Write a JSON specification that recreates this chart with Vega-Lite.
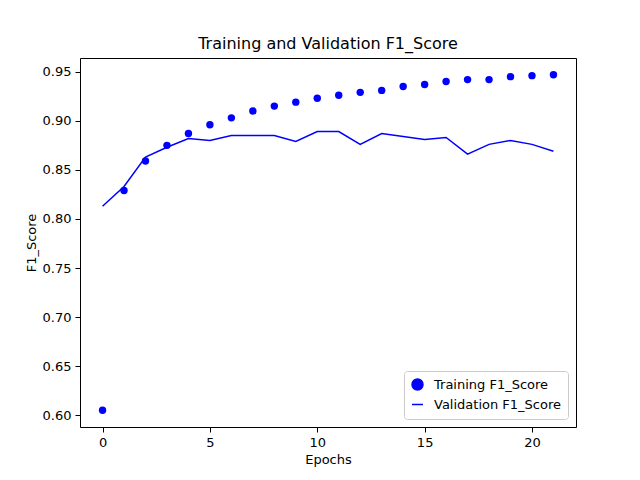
{
  "$schema": "https://vega.github.io/schema/vega-lite/v6.json",
  "width": 496,
  "height": 369,
  "autosize": {"type": "none"},
  "padding": {"left": 80, "top": 58, "right": 64, "bottom": 53},
  "config": {
    "font": "DejaVu Sans",
    "view": {"stroke": "black", "strokeWidth": 1},
    "axis": {"grid": false, "domain": false, "tickColor": "black", "labelColor": "black", "titleColor": "black", "labelFontSize": 13, "titleFontSize": 13, "titleFontWeight": "normal", "tickSize": 5, "labelPadding": 4}
  },
  "title": {"text": "Training and Validation F1_Score", "fontSize": 16, "fontWeight": "normal", "color": "black", "offset": 6},
  "data": {"values": [
    {"epoch": 0, "value": 0.605, "series": "Training F1_Score"},
    {"epoch": 1, "value": 0.829, "series": "Training F1_Score"},
    {"epoch": 2, "value": 0.859, "series": "Training F1_Score"},
    {"epoch": 3, "value": 0.875, "series": "Training F1_Score"},
    {"epoch": 4, "value": 0.887, "series": "Training F1_Score"},
    {"epoch": 5, "value": 0.896, "series": "Training F1_Score"},
    {"epoch": 6, "value": 0.903, "series": "Training F1_Score"},
    {"epoch": 7, "value": 0.910, "series": "Training F1_Score"},
    {"epoch": 8, "value": 0.915, "series": "Training F1_Score"},
    {"epoch": 9, "value": 0.919, "series": "Training F1_Score"},
    {"epoch": 10, "value": 0.923, "series": "Training F1_Score"},
    {"epoch": 11, "value": 0.926, "series": "Training F1_Score"},
    {"epoch": 12, "value": 0.929, "series": "Training F1_Score"},
    {"epoch": 13, "value": 0.931, "series": "Training F1_Score"},
    {"epoch": 14, "value": 0.935, "series": "Training F1_Score"},
    {"epoch": 15, "value": 0.937, "series": "Training F1_Score"},
    {"epoch": 16, "value": 0.940, "series": "Training F1_Score"},
    {"epoch": 17, "value": 0.942, "series": "Training F1_Score"},
    {"epoch": 18, "value": 0.942, "series": "Training F1_Score"},
    {"epoch": 19, "value": 0.945, "series": "Training F1_Score"},
    {"epoch": 20, "value": 0.946, "series": "Training F1_Score"},
    {"epoch": 21, "value": 0.947, "series": "Training F1_Score"},
    {"epoch": 0, "value": 0.813, "series": "Validation F1_Score"},
    {"epoch": 1, "value": 0.833, "series": "Validation F1_Score"},
    {"epoch": 2, "value": 0.863, "series": "Validation F1_Score"},
    {"epoch": 3, "value": 0.873, "series": "Validation F1_Score"},
    {"epoch": 4, "value": 0.882, "series": "Validation F1_Score"},
    {"epoch": 5, "value": 0.880, "series": "Validation F1_Score"},
    {"epoch": 6, "value": 0.885, "series": "Validation F1_Score"},
    {"epoch": 7, "value": 0.885, "series": "Validation F1_Score"},
    {"epoch": 8, "value": 0.885, "series": "Validation F1_Score"},
    {"epoch": 9, "value": 0.879, "series": "Validation F1_Score"},
    {"epoch": 10, "value": 0.889, "series": "Validation F1_Score"},
    {"epoch": 11, "value": 0.889, "series": "Validation F1_Score"},
    {"epoch": 12, "value": 0.876, "series": "Validation F1_Score"},
    {"epoch": 13, "value": 0.887, "series": "Validation F1_Score"},
    {"epoch": 14, "value": 0.884, "series": "Validation F1_Score"},
    {"epoch": 15, "value": 0.881, "series": "Validation F1_Score"},
    {"epoch": 16, "value": 0.883, "series": "Validation F1_Score"},
    {"epoch": 17, "value": 0.866, "series": "Validation F1_Score"},
    {"epoch": 18, "value": 0.876, "series": "Validation F1_Score"},
    {"epoch": 19, "value": 0.880, "series": "Validation F1_Score"},
    {"epoch": 20, "value": 0.876, "series": "Validation F1_Score"},
    {"epoch": 21, "value": 0.869, "series": "Validation F1_Score"}
  ]},
  "encoding": {
    "x": {"field": "epoch", "type": "quantitative", "title": "Epochs",
          "scale": {"domain": [-1.05, 22.05], "nice": false, "zero": false},
          "axis": {"values": [0, 5, 10, 15, 20]}},
    "y": {"field": "value", "type": "quantitative", "title": "F1_Score",
          "scale": {"domain": [0.588, 0.964], "nice": false, "zero": false},
          "axis": {"values": [0.6, 0.65, 0.7, 0.75, 0.8, 0.85, 0.9, 0.95], "format": ".2f"}}
  },
  "layer": [
    {
      "transform": [{"filter": "datum.series === 'Training F1_Score'"}],
      "mark": {"type": "point", "filled": true, "size": 55, "opacity": 1},
      "encoding": {
        "color": {"field": "series", "type": "nominal", "title": null,
          "scale": {"domain": ["Training F1_Score", "Validation F1_Score"], "range": ["#0000ff", "#0000ff"]},
          "legend": {"orient": "bottom-right", "fillColor": "white", "strokeColor": "#cccccc", "padding": 7, "cornerRadius": 3, "offset": 8, "labelFontSize": 13, "labelColor": "black", "symbolStrokeColor": "#0000ff", "symbolStrokeWidth": 1.5, "symbolSize": 120, "rowPadding": 5, "labelOffset": 10}},
        "shape": {"field": "series", "type": "nominal",
          "scale": {"domain": ["Training F1_Score", "Validation F1_Score"], "range": ["circle", "stroke"]}}
      }
    },
    {
      "transform": [{"filter": "datum.series === 'Validation F1_Score'"}],
      "mark": {"type": "line", "color": "#0000ff", "strokeWidth": 1.5},
      "encoding": {}
    }
  ]
}
